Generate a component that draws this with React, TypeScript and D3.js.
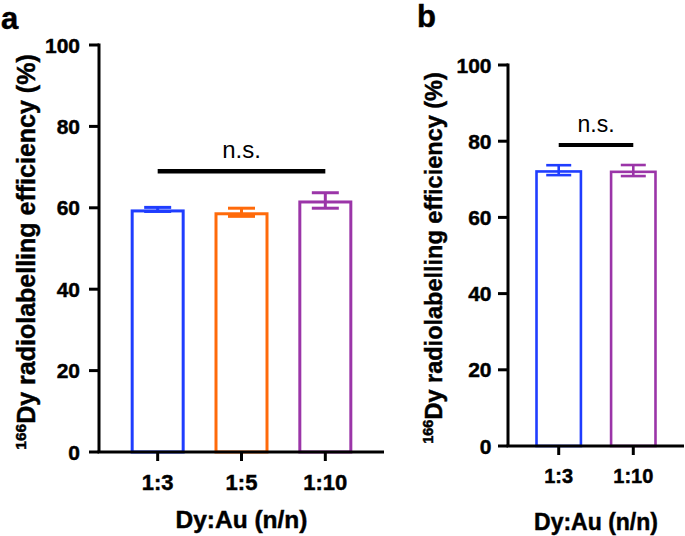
import React from "react";
import * as d3 from "d3";

const catsA = ["1:3", "1:5", "1:10"];
const meansA = [59.6, 58.9, 61.8];
const sdA = [0.5, 1.0, 1.9];
const colorsA = ["#1F3DFF", "#FF6A0A", "#9B35A8"];
const sigA = { from: "1:3", to: "1:10", value: 69, label: "n.s." };

const catsB = ["1:3", "1:10"];
const meansB = [72.4, 72.3];
const sdB = [1.3, 1.45];
const colorsB = ["#1F3DFF", "#9B35A8"];
const sigB = { from: "1:3", to: "1:10", value: 79, label: "n.s." };

const yTicks = [0, 20, 40, 60, 80, 100];
const FONT = "'Liberation Sans', Arial, Helvetica, sans-serif";
const HEAVY = { stroke: "#000", strokeWidth: 0.45, paintOrder: "stroke" as const };

type PanelProps = {
  letter: string;
  letterX: number;
  letterY: number;
  cats: string[];
  means: number[];
  sds: number[];
  colors: string[];
  sig: { from: string; to: string; value: number; label: string };
  axX: number;
  axRight: number;
  yTop: number;
  yBottom: number;
  pad: number;
  barW: number;
  capW: number;
  stroke: number;
  yTickFont: number;
  yTickGap: number;
  xTickFont: number;
  xTickY: number;
  titleFont: number;
  titleY: number;
  yLabelFont: number;
  yLabelX: number;
  yLabelY: number;
  nsFont: number;
  sigStroke: number;
};

function Panel(p: PanelProps) {
  const y = d3.scaleLinear().domain([0, 100]).range([p.yBottom, p.yTop]);
  const x = d3.scalePoint<string>().domain(p.cats).range([p.axX, p.axRight]).padding(p.pad);
  const sw = p.stroke;
  const sx1 = x(p.sig.from)!;
  const sx2 = x(p.sig.to)!;
  const sy = y(p.sig.value);
  return (
    <g fontFamily={FONT}>
      <text x={p.letterX} y={p.letterY} fontSize={31} fontWeight="bold" fill="#000" {...HEAVY}>
        {p.letter}
      </text>
      {/* bars */}
      {p.cats.map((c, i) => {
        const cx = x(c)!;
        const top = y(p.means[i]);
        const hi = y(p.means[i] + p.sds[i]);
        const lo = y(p.means[i] - p.sds[i]);
        return (
          <g key={c}>
            <line x1={cx} x2={cx} y1={hi} y2={lo} stroke={p.colors[i]} strokeWidth={sw} />
            <line x1={cx - p.capW / 2} x2={cx + p.capW / 2} y1={hi} y2={hi} stroke={p.colors[i]} strokeWidth={sw} />
            <line x1={cx - p.capW / 2} x2={cx + p.capW / 2} y1={lo} y2={lo} stroke={p.colors[i]} strokeWidth={sw} />
            <rect
              x={cx - p.barW / 2 + sw / 2}
              y={top + sw / 2}
              width={p.barW - sw}
              height={p.yBottom - top - sw / 2}
              fill="none"
              stroke={p.colors[i]}
              strokeWidth={sw}
            />
          </g>
        );
      })}
      {/* y axis */}
      <line x1={p.axX} x2={p.axX} y1={y(100) - 1.5} y2={p.yBottom} stroke="#000" strokeWidth={3} />
      {yTicks.map((t) => (
        <g key={t}>
          <line x1={p.axX - 10} x2={p.axX} y1={y(t)} y2={y(t)} stroke="#000" strokeWidth={3} />
          <text
            x={p.axX - p.yTickGap}
            y={y(t)}
            dy="0.36em"
            textAnchor="end"
            fontSize={p.yTickFont}
            fontWeight="bold"
            {...HEAVY}
          >
            {t}
          </text>
        </g>
      ))}
      {/* x axis */}
      <line x1={p.axX - 1.5} x2={p.axRight} y1={p.yBottom} y2={p.yBottom} stroke="#000" strokeWidth={3} />
      {p.cats.map((c) => (
        <g key={c}>
          <line x1={x(c)!} x2={x(c)!} y1={p.yBottom} y2={p.yBottom + 9} stroke="#000" strokeWidth={3} />
          <text x={x(c)!} y={p.xTickY} textAnchor="middle" fontSize={p.xTickFont} fontWeight="bold" {...HEAVY}>
            {c}
          </text>
        </g>
      ))}
      <text
        x={(p.axX + p.axRight) / 2}
        y={p.titleY}
        textAnchor="middle"
        fontSize={p.titleFont}
        fontWeight="bold"
        {...HEAVY}
      >
        Dy:Au (n/n)
      </text>
      {/* y label */}
      <text
        transform={`translate(${p.yLabelX},${p.yLabelY}) rotate(-90)`}
        textAnchor="middle"
        fontSize={p.yLabelFont}
        fontWeight="bold"
        {...HEAVY}
      >
        <tspan fontSize={p.yLabelFont * 0.62} dy={-p.yLabelFont * 0.38}>
          166
        </tspan>
        <tspan dy={p.yLabelFont * 0.38}>Dy radiolabelling efficiency (%)</tspan>
      </text>
      {/* significance */}
      <line x1={sx1} x2={sx2} y1={sy} y2={sy} stroke="#000" strokeWidth={p.sigStroke} />
      <text x={(sx1 + sx2) / 2} y={sy - 13} textAnchor="middle" fontSize={p.nsFont}>
        {p.sig.label}
      </text>
    </g>
  );
}

export default function App() {
  return (
    <svg
      width={685}
      height={536}
      style={{ position: "absolute", left: 0, top: 0, background: "#fff" }}
    >
      <rect width={685} height={536} fill="#fff" />
      <Panel
        letter="a"
        letterX={1}
        letterY={29}
        cats={catsA}
        means={meansA}
        sds={sdA}
        colors={colorsA}
        sig={sigA}
        axX={99}
        axRight={384}
        yTop={45}
        yBottom={452}
        pad={0.7}
        barW={54}
        capW={27}
        stroke={3}
        yTickFont={21}
        yTickGap={19}
        xTickFont={22}
        xTickY={490}
        titleFont={24.5}
        titleY={528}
        yLabelFont={25}
        yLabelX={35}
        yLabelY={252}
        nsFont={24}
        sigStroke={4.5}
      />
      <Panel
        letter="b"
        letterX={417}
        letterY={27}
        cats={catsB}
        means={meansB}
        sds={sdB}
        colors={colorsB}
        sig={sigB}
        axX={508}
        axRight={684}
        yTop={65}
        yBottom={446}
        pad={0.68}
        barW={47}
        capW={25}
        stroke={2.6}
        yTickFont={21}
        yTickGap={16.5}
        xTickFont={20}
        xTickY={483}
        titleFont={23}
        titleY={530}
        yLabelFont={23.5}
        yLabelX={442}
        yLabelY={258}
        nsFont={23}
        sigStroke={4}
      />
    </svg>
  );
}
